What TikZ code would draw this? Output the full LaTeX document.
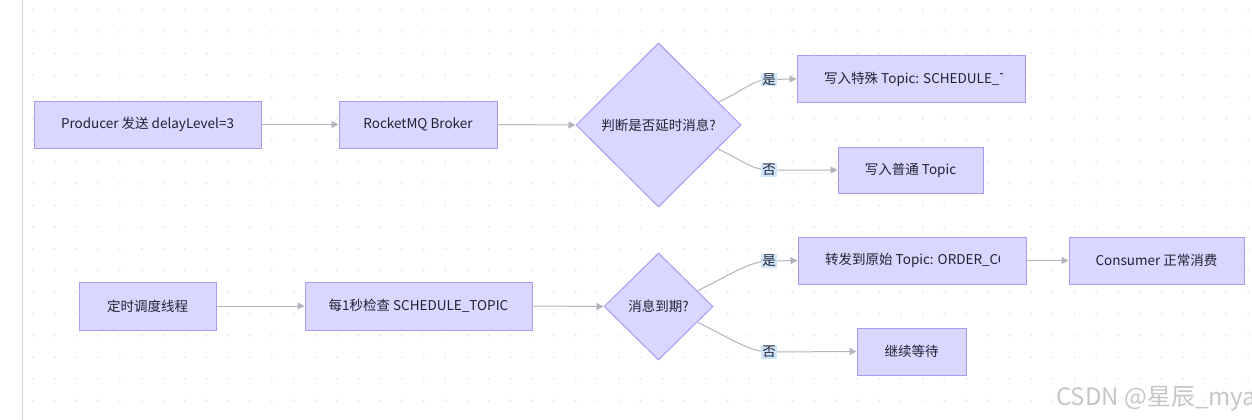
\documentclass[tikz,border=0pt]{standalone}
\usepackage{fontspec}
\setmainfont{Noto Sans CJK SC}
\newfontfamily\wmfont{Noto Sans CJK SC}
\usetikzlibrary{shapes.geometric,arrows.meta}
\definecolor{boxfill}{HTML}{D9D6FF}
\definecolor{boxline}{HTML}{A79CF5}
\definecolor{edgecol}{HTML}{B5B3BE}
\definecolor{lblfill}{HTML}{CFE6FA}
\definecolor{dotcol}{HTML}{EDEDED}
\definecolor{txtcol}{HTML}{222233}
\tikzset{
  box/.style={draw=boxline, fill=boxfill, line width=1pt, inner sep=0pt, text=txtcol, font=\fontsize{13.5}{16}\selectfont},
  dia/.style={diamond, draw=boxline, fill=boxfill, line width=1pt, inner sep=0pt, text=txtcol, font=\fontsize{13.5}{16}\selectfont},
  edge/.style={draw=edgecol, line width=1pt, -{Triangle[length=7pt,width=7pt]}},
  lbl/.style={fill=lblfill, inner sep=1pt, text=txtcol, font=\fontsize{13.5}{16}\selectfont},
  txt/.style={text=txtcol, font=\fontsize{13.5}{16}\selectfont, inner sep=0pt, anchor=west}
}
\begin{document}
\begin{tikzpicture}[x=1pt,y=-1pt]
\useasboundingbox (0,0) rectangle (1252,420);
\fill[white] (0,0) rectangle (1252,420);
% dotted grid
\foreach \i in {0,...,56} {
  \foreach \j in {0,...,19} {
    \fill[dotcol] ({33+21.7*\i},{10+21.7*\j}) circle (1.3);
  }
}
\draw[dotcol!80!gray, line width=0.8pt] (22,0) -- (22,420);

% nodes
\node[box, minimum width=227, minimum height=47] (prod) at (147.5,124.5) {Producer 发送 delayLevel=3};
\node[box, minimum width=158, minimum height=47] (broker) at (418,124.5) {RocketMQ Broker};
\node[dia, minimum width=165, minimum height=164] (d1) at (658.5,125) {判断是否延时消息?};
\node[box, minimum width=228, minimum height=46] (t1) at (911,79) {};
\begin{scope}
\clip (800,60) rectangle (1002,100);
\node[txt] (t1txt) at (824,79) {写入特殊 Topic: SCHEDULE\_TOPIC};
\end{scope}
\node[box, minimum width=145, minimum height=46] (t2) at (910.5,170) {写入普通 Topic};

\node[box, minimum width=137, minimum height=48] (sched) at (147.5,306) {定时调度线程};
\node[box, minimum width=227, minimum height=48] (chk) at (418.5,306) {每1秒检查 SCHEDULE\_TOPIC};
\node[dia, minimum width=109, minimum height=107] (d2) at (658.5,306.5) {消息到期?};
\node[box, minimum width=228, minimum height=47] (fw) at (912,260.5) {};
\begin{scope}
\clip (800,240) rectangle (999.5,282);
\node[txt] (fwtxt) at (825,260.5) {转发到原始 Topic: ORDER\_CONSUMER};
\end{scope}
\node[box, minimum width=175, minimum height=47] (cons) at (1156.5,260.5) {Consumer 正常消费};
\node[box, minimum width=109, minimum height=47] (wait) at (911.5,351.5) {继续等待};

% label positions
\coordinate (y1) at (769,79.5);
\coordinate (n1) at (769,170);
\coordinate (y2) at (769,261);
\coordinate (n2) at (769,352);

% edges
\draw[edge] (prod.east) -- (broker.west);
\draw[edge] (broker.east) -- (d1.west);
\draw[edge] (d1.21) .. controls (742,92) and (752,79.5) .. (y1) -- (t1.west);
\draw[edge] (d1.-22) .. controls (742,160) and (752,170) .. (n1) -- (t2.west);
\draw[edge] (sched.east) -- (chk.west);
\draw[edge] (chk.east) -- (d2.west);
\draw[edge] (d2.22) .. controls (730,275) and (750,261) .. (y2) -- (fw.west);
\draw[edge] (d2.-22) .. controls (730,338) and (750,352) .. (n2) -- (wait.west);
\draw[edge] (fw.east) -- (cons.west);

% labels
\node[lbl] (ly1) at (y1) {是};
\node[lbl] (ln1) at (n1) {否};
\node[lbl] (ly2) at (y2) {是};
\node[lbl] (ln2) at (n2) {否};

% watermark
\node[anchor=west, inner sep=0pt, text=gray!45, font=\wmfont\fontsize{24}{28}\selectfont] (wm) at (1056,399) {CSDN @星辰\_mya};
\end{tikzpicture}
\end{document}
